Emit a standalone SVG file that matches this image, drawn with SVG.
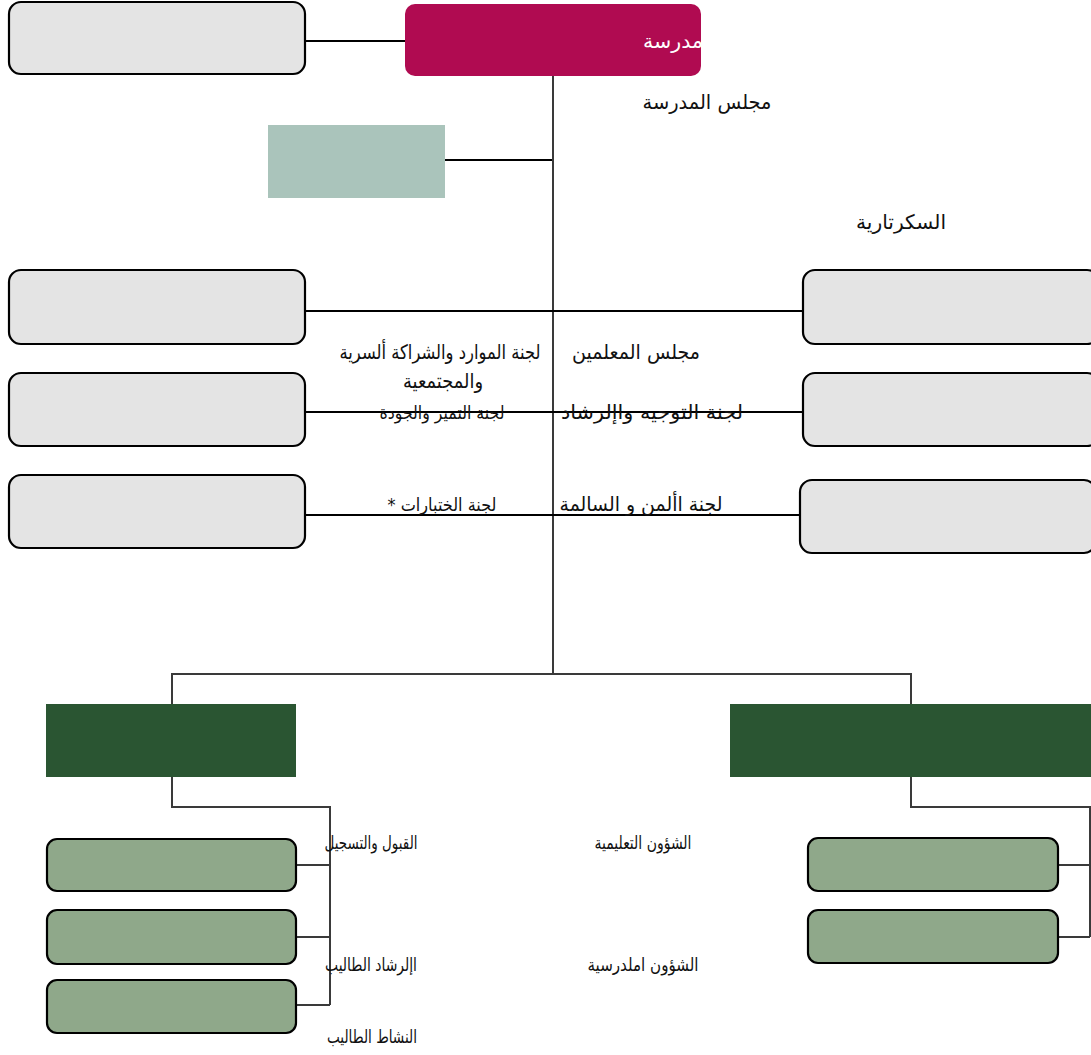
<svg xmlns="http://www.w3.org/2000/svg" width="1091" height="1055" viewBox="0 0 1091 1055">
<style>
.gray{fill:#e4e4e4;stroke:#000;stroke-width:2.2}
.sub{fill:#8fa88a;stroke:#000;stroke-width:2.2}
.dk{fill:#2a5532}
.ln{stroke:#000;stroke-width:2.2;fill:none}
.ln2{stroke:#3a3a3a;stroke-width:2;fill:none}
text{font-family:"DejaVu Sans","Liberation Sans",sans-serif;fill:#111;text-anchor:middle;direction:rtl}
.t18{font-size:20px}
.t16{font-size:18px}
</style>
<rect width="1091" height="1055" fill="#fff"/>
<g id="connectors">
<line class="ln" x1="305" y1="41" x2="405" y2="41"/>
<line class="ln2" x1="553" y1="76" x2="553" y2="673"/>
<line class="ln" x1="445" y1="160" x2="552" y2="160"/>
<line class="ln" x1="305" y1="311" x2="802" y2="311"/>
<line class="ln" x1="305" y1="412" x2="802" y2="412"/>
<line class="ln" x1="305" y1="515" x2="800" y2="515"/>
<polyline class="ln2" points="172,705 172,674 911,674 911,705"/>
<polyline class="ln2" points="172,777 172,807 330,807 330,1005"/>
<line class="ln2" x1="296" y1="865" x2="330" y2="865"/>
<line class="ln2" x1="296" y1="937" x2="330" y2="937"/>
<line class="ln2" x1="296" y1="1005" x2="330" y2="1005"/>
<polyline class="ln2" points="911,777 911,807 1090,807 1090,937"/>
<line class="ln2" x1="1058" y1="865" x2="1090" y2="865"/>
<line class="ln2" x1="1058" y1="937" x2="1090" y2="937"/>
</g>
<g id="top-left"><rect class="gray" x="9" y="2" width="296" height="72" rx="12"/></g>
<g id="school"><rect x="405" y="4" width="296" height="72" rx="10" fill="#b00b51"/>
<text x="673" y="48" font-size="20" textLength="60" lengthAdjust="spacingAndGlyphs" style="fill:#fff">مدرسة</text></g>
<g id="school-council-label"><text class="t18" x="707" y="109" textLength="129" lengthAdjust="spacingAndGlyphs">مجلس المدرسة</text></g>
<g id="secretary"><rect x="268" y="125" width="177" height="73" fill="#aac4bb"/></g>
<g id="secretary-label"><text class="t18" x="901" y="229" textLength="90" lengthAdjust="spacingAndGlyphs">السكرتارية</text></g>
<g id="l1"><rect class="gray" x="9" y="270" width="296" height="74" rx="12"/></g>
<g id="r1"><rect class="gray" x="803" y="270" width="296" height="74" rx="12"/></g>
<g id="l2"><rect class="gray" x="9" y="373" width="296" height="73" rx="12"/></g>
<g id="r2"><rect class="gray" x="803" y="373" width="296" height="73" rx="12"/></g>
<g id="l3"><rect class="gray" x="9" y="475" width="296" height="73" rx="12"/></g>
<g id="r3"><rect class="gray" x="800" y="480" width="296" height="73" rx="12"/></g>
<g id="labels-mid">
<text class="t18" x="636" y="359" textLength="128" lengthAdjust="spacingAndGlyphs">مجلس المعلمين</text>
<text class="t18" x="440" y="359" textLength="201" lengthAdjust="spacingAndGlyphs">لجنة الموارد والشراكة ألسرية</text>
<text class="t18" x="443" y="388" textLength="80" lengthAdjust="spacingAndGlyphs">والمجتمعية</text>
<text class="t16" x="442" y="419" textLength="125" lengthAdjust="spacingAndGlyphs">لجنة التميز والجودة</text>
<text class="t18" x="652" y="419" textLength="182" lengthAdjust="spacingAndGlyphs">لجنة التوجيه واإلرشاد</text>
<text class="t16" x="442" y="511" textLength="109" lengthAdjust="spacingAndGlyphs">لجنة الختبارات *</text>
<text class="t18" x="641" y="511" textLength="163" lengthAdjust="spacingAndGlyphs">لجنة األمن و السالمة</text>
</g>
<g id="dept-left"><rect class="dk" x="46" y="704" width="250" height="73"/></g>
<g id="dept-right"><rect class="dk" x="730" y="704" width="361" height="73"/></g>
<g id="sub-l1"><rect class="sub" x="47" y="839" width="249" height="52" rx="10"/></g>
<g id="sub-l2"><rect class="sub" x="47" y="910" width="249" height="54" rx="10"/></g>
<g id="sub-l3"><rect class="sub" x="47" y="980" width="249" height="53" rx="10"/></g>
<g id="sub-r1"><rect class="sub" x="808" y="838" width="250" height="53" rx="10"/></g>
<g id="sub-r2"><rect class="sub" x="808" y="910" width="250" height="53" rx="10"/></g>
<g id="labels-bottom">
<text class="t16" x="371" y="849" textLength="93" lengthAdjust="spacingAndGlyphs">القبول والتسجيل</text>
<text class="t16" x="643" y="849" textLength="97" lengthAdjust="spacingAndGlyphs">الشؤون التعليمية</text>
<text class="t16" x="371" y="971" textLength="92" lengthAdjust="spacingAndGlyphs">اإلرشاد الطاليب</text>
<text class="t16" x="643" y="971" textLength="111" lengthAdjust="spacingAndGlyphs">الشؤون املدرسية</text>
<text class="t16" x="372" y="1043" textLength="90" lengthAdjust="spacingAndGlyphs">النشاط الطاليب</text>
</g>
</svg>
